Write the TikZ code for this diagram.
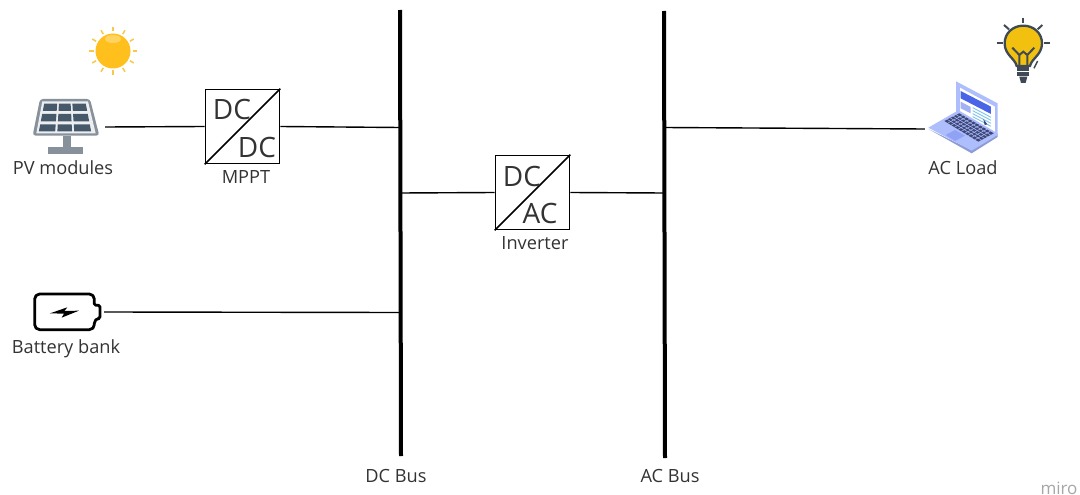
\documentclass[tikz,border=0pt]{standalone}
\usepackage{fontspec}
\setmainfont{Open Sans}
\definecolor{txtcol}{HTML}{333333}
\definecolor{sunfill}{HTML}{FFC01E}
\definecolor{sunray}{HTML}{F8C84A}
\definecolor{pvframe}{HTML}{87919B}
\definecolor{pvcell}{HTML}{46596A}
\definecolor{bulbfill}{HTML}{F2C10F}
\definecolor{bulbline}{HTML}{3F4A54}
\definecolor{lapbody}{HTML}{AEBDFB}
\definecolor{lapdark}{HTML}{3C4678}
\definecolor{lapblue}{HTML}{4A64E8}
\definecolor{lapsky}{HTML}{7FC4EE}
\begin{document}
\begin{tikzpicture}[x=1pt,y=-1pt,
main/.style = {draw, minimum size=74pt, inner sep=0pt, line width=1.7pt},
icon/.style = {inner sep=0pt, minimum height=30pt},
bus/.style = {line width=4pt},
wire/.style = {line width=1.4pt},
lbl/.style = {text=txtcol, font=\fontsize{18.2}{20}\selectfont, inner sep=0pt},
conv/.style = {text=txtcol, font=\fontsize{28}{30}\selectfont, inner sep=0pt}]
\useasboundingbox (0,0) rectangle (1080,495);
% sun
\fill[sunfill] (113,51) circle (17.5);
\fill[white,opacity=.3] (113,39) ellipse (8 and 4);
\foreach \a in {0,30,...,330}
  \draw[sunray,line width=1.5pt] (113,51)+(\a:19.5) -- +(\a:24);
% solar panel
\begin{scope}[xshift=0pt,yshift=-10pt,x=.3333pt,y=-.3333pt]
\fill[pvframe,rounded corners=3pt] (120,267) -- (270,267) -- (298,377) -- (98,377) -- cycle;
\fill[white!85!pvframe] (127,274) -- (264,274) -- (287,370) -- (109,370) -- cycle;
\foreach \ya/\yb in {281/303,312/334,343/364}
  \foreach \ua/\ub in {0.02/.32,.36/.63,.67/.98}
    \fill[pvcell] ({130-(\ya-281)*.2+\ua*(130+(\ya-281)*.4)},\ya) -- ({130-(\ya-281)*.2+\ub*(130+(\ya-281)*.4)},\ya)
      -- ({130-(\yb-281)*.2+\ub*(130+(\yb-281)*.4)},\yb) -- ({130-(\yb-281)*.2+\ua*(130+(\yb-281)*.4)},\yb) -- cycle;
\fill[pvframe] (190,377) rectangle (213,412);
\fill[pvframe] (145,412) rectangle (250,431);
\end{scope}
% battery
\begin{scope}[yshift=-280pt,x=.3333pt,y=-.3333pt]
\draw[line width=2.8pt,line join=round] (283,76) [rounded corners=5pt] -- (283,42) -- (104,42) -- (104,149) -- (283,149) -- (283,115) [rounded corners=1.5pt] -- (300,115) -- (300,76) -- cycle;
\fill (150,100) -- (202,82) -- (193,93) -- (237,92) -- (185,113) -- (192,101) -- cycle;
\end{scope}
% bulb
\begin{scope}[xshift=900pt,yshift=-5pt,x=.3333pt,y=-.3333pt]
\draw[bulbline,fill=bulbfill,line width=2.3pt] (350,183) .. controls (345,160) and (314,150) .. (314,115) .. controls (314,83) and (340,62) .. (370,62) .. controls (400,62) and (426,83) .. (426,115) .. controls (426,150) and (395,160) .. (390,183) -- cycle;
\draw[bulbline,line width=2pt] (358,183) -- (358,150) -- (337,128) (382,183) -- (382,150) -- (403,128) (358,150) -- (370,140) -- (382,150);
\fill[bulbline] (352,187) rectangle (388,197);
\fill[bulbline] (352,200) rectangle (388,212);
\fill[bulbline] (358,215) -- (382,215) -- (377,234) -- (363,234) -- cycle;
\foreach \xa/\ya/\xb/\yb in {370/38/370/55,312/60/327/73,427/60/413/73,290/115/308/115,432/115/450/115}
  \draw[bulbline,line width=2pt] (\xa,\ya) -- (\xb,\yb);
\draw[bulbline,line width=1.5pt] (402,190) -- (413,168);
\end{scope}
% laptop
\begin{scope}[xshift=900pt,yshift=-5pt,x=.3333pt,y=-.3333pt]
\fill[lapbody!85!black!90!lapblue] (85,372) -- (215,445) -- (293,396) -- (293,385) -- (215,435) -- cycle;
\fill[lapbody] (168,229) -- (293,295) -- (293,390) -- (215,437) -- (85,368) -- (168,320) -- cycle;
\fill[white] (180,248) -- (285,305) -- (285,380) -- (180,318) -- cycle;
\fill[lapblue] (182,258) -- (273,305) -- (273,327) -- (182,280) -- cycle;
\fill[lapblue!50!white] (182,290) -- (212,306) -- (212,325) -- (182,310) -- cycle;
\foreach \d in {0,9,18,27}
  \draw[lapsky,line width=.9pt] (218,{308+\d}) -- (273,{337+\d});
\fill[lapdark] (133,348) -- (178,325) -- (281,385) -- (235,410) -- cycle;
\foreach \d in {.2,.4,.6,.8}
  \draw[lapbody,line width=.5pt] ({133+\d*45},{348-\d*23}) -- ({235+\d*46},{410-\d*25});
\foreach \d in {.1,.2,...,.9}
  \draw[lapbody,line width=.5pt] ({133+\d*102},{348+\d*62}) -- ({178+\d*103},{325+\d*60});
\fill[lapbody!70!lapblue] (137,390) -- (165,375) -- (195,392) -- (165,408) -- cycle;
\fill[lapdark] (250,342) -- (262,358) -- (254,360) -- cycle;
\end{scope}
% nodes
\node[icon,minimum width=78pt] (pv) at (66,127) {};
\node[icon,minimum width=74pt] (bat) at (67,312) {};
\node[icon,minimum width=76pt] (load) at (963,129) {};
\node[main] (mppt) at (242.5,126.5) {};
\node[main] (inv) at (532.5,192.5) {};
\draw[line width=1.5pt] (mppt.south west) -- (mppt.north east);
\draw[line width=1.5pt] (inv.south west) -- (inv.north east);
\node[conv] (mppta) at (232,109) {DC};
\node[conv] (mpptb) at (257,147) {DC};
\node[conv] (inva) at (522,176) {DC};
\node[conv] (invb) at (540,213) {AC};
% buses
\coordinate (dctop) at (400,10);
\coordinate (dcbot) at (401,456);
\coordinate (actop) at (664,11);
\coordinate (acbot) at (665,458);
\draw[bus] (dctop) -- (dcbot);
\draw[bus] (actop) -- (acbot);
\coordinate (dc1) at (400,127.5);
\coordinate (dc2) at (400,193);
\coordinate (dc3) at (400,312.5);
\coordinate (ac1) at (664,127.5);
\coordinate (ac2) at (664,193);
\draw[wire] (pv.east) -- (mppt.west);
\draw[wire] (mppt.east) -- (dc1);
\draw[wire] (dc2) -- (inv.west);
\draw[wire] (inv.east) -- (ac2);
\draw[wire] (bat.east) -- (dc3);
\draw[wire] (ac1) -- (load.west);
% labels
\node[lbl,below of=pv,node distance=41pt,xshift=-3pt] (pvlbl) {PV modules};
\node[lbl,below of=bat,node distance=37pt,xshift=-1pt] (batlbl) {Battery bank};
\node[lbl,below of=load,node distance=39pt] (loadlbl) {AC Load};
\node[lbl,below of=mppt,node distance=51pt,xshift=3.5pt] (mpptlbl) {MPPT};
\node[lbl,below of=inv,node distance=51pt,xshift=2.5pt] (invlbl) {Inverter};
\node[lbl] (dclbl) at (396,476) {DC Bus};
\node[lbl] (aclbl) at (670,476) {AC Bus};
\node[text=black!35,font=\fontsize{17}{18}\selectfont,inner sep=0pt] (miro) at (1059,488) {miro};
\end{tikzpicture}
\end{document}
